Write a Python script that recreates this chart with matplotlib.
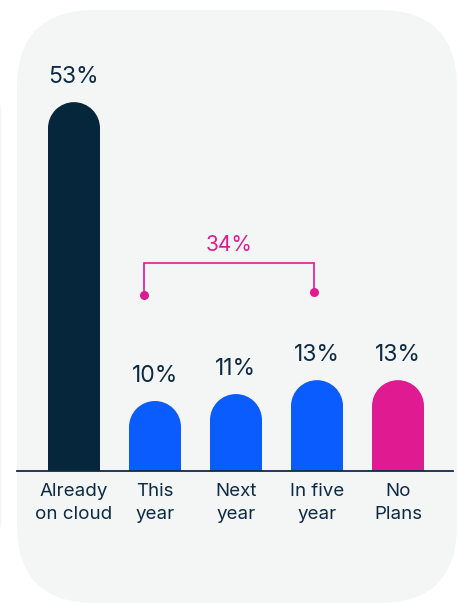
import numpy as np
import matplotlib
matplotlib.use("Agg")
import matplotlib.pyplot as plt
from matplotlib.patches import FancyBboxPatch, Ellipse

plt.rcParams["font.family"] = ["Inter", "DejaVu Sans"]

categories = ["Already\non cloud", "This\nyear", "Next\nyear", "In five\nyear", "No\nPlans"]
values = [53, 10, 11, 13, 13]
bar_colors = ["#06263b", "#0b5cff", "#0b5cff", "#0b5cff", "#e01a91"]
combined_label = "34%"

TEXT = "#0d2b45"
PINK = "#e01a91"
PANEL = "#f4f5f5"

W, H = 458, 605
fig = plt.figure(figsize=(W / 100, H / 100), dpi=100)
fig.patch.set_facecolor("white")

# background layer in pixel units for the rounded card
bg = fig.add_axes([0, 0, 1, 1])
bg.set_xlim(0, W)
bg.set_ylim(H, 0)
bg.axis("off")
card = FancyBboxPatch((17 + 78, 10 + 78), 440 - 156, 593 - 156,
                      boxstyle="round,pad=78", fc=PANEL, ec="none")
bg.add_patch(card)
# edge of the neighbouring card
side = FancyBboxPatch((-100, 85 + 30), 1.5 - 30 + 100, 463 - 60,
                      boxstyle="round,pad=30", fc=PANEL, ec="none")
bg.add_patch(side)

# main axes: bottom edge sits on the baseline
left_px, right_px, base_px, top_px = 17, 453, 470.5, 10
ax = fig.add_axes([left_px / W, (H - base_px) / H,
                   (right_px - left_px) / W, (base_px - top_px) / H])
ax.set_facecolor("none")
px_per_unit = 6.95
ax.set_ylim(0, (base_px - top_px) / px_per_unit)
step = 81.0
ax.set_xlim(-57 / step, (right_px - left_px - 57) / step)
ax.axis("off")

x = np.arange(len(values))
width = 52 / step
r_y = 26 / px_per_unit  # cap radius in value units

for xi, v, c in zip(x, values, bar_colors):
    ax.bar(xi, v - r_y, width=width, color=c, linewidth=0)
    ax.add_patch(Ellipse((xi, v - r_y), width, 2 * r_y, fc=c, ec="none"))
    ax.annotate(f"{v}%", (xi, v), xytext=(0, 14), textcoords="offset pixels",
                ha="center", va="bottom", fontsize=16.5, color=TEXT)

ax.axhline(0, color=TEXT, lw=1.3, clip_on=False)

for xi, lab in zip(x, categories):
    ax.annotate(lab, (xi, 0), xytext=(0, -13), textcoords="offset pixels",
                ha="center", va="top", fontsize=13.5, color=TEXT,
                linespacing=1.4, annotation_clip=False)

# bracket spanning the three planned-migration bars
bx = [0.86, 0.86, 2.96, 2.96]
by = [25.25, 29.9, 29.9, 25.7]
ax.plot(bx, by, color=PINK, lw=1.2, solid_joinstyle="miter")
ax.plot([bx[0], bx[-1]], [by[0], by[-1]], "o", color=PINK, ms=6.5, mec="none")
ax.text((bx[0] + bx[-1]) / 2, 31.0, combined_label, ha="center", va="bottom",
        fontsize=15, color=PINK)

fig.savefig("out.png", dpi=100, facecolor="white")
